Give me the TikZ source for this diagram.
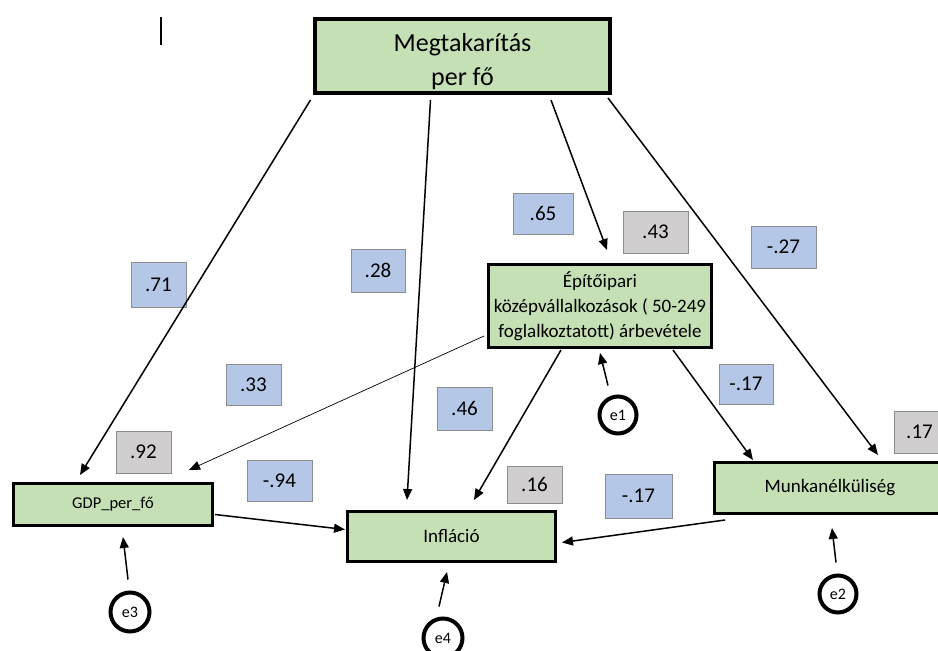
\documentclass[tikz,border=0pt]{standalone}
\usepackage{fontspec}
\setmainfont{Carlito}
\usetikzlibrary{arrows.meta}
\definecolor{boxgreen}{HTML}{C5E0B4}
\definecolor{labblue}{HTML}{B4C7E7}
\definecolor{labgray}{HTML}{D0CECE}
\begin{document}
\begin{tikzpicture}[x=1pt,y=-1pt,
  var/.style={draw=black,line width=3pt,fill=boxgreen,inner sep=0pt,align=center,font=\fontsize{19}{25}\selectfont},
  err/.style={draw=black,line width=4pt,circle,fill=white,inner sep=0pt,minimum size=37pt,font=\fontsize{16}{18}\selectfont},
  bl/.style={draw=black!45,line width=0.6pt,fill=labblue,inner sep=0pt,font=\fontsize{21}{23}\selectfont},
  gr/.style={draw=black!45,line width=0.6pt,fill=labgray,inner sep=0pt,font=\fontsize{21}{23}\selectfont},
  arr/.style={line width=1.5pt,-{Triangle[length=11pt,width=9pt]}},
  thinarr/.style={line width=0.7pt,-{Triangle[length=11pt,width=9pt]}}
]
\useasboundingbox (0,0) rectangle (938,651);
\fill[white] (0,0) rectangle (938,651);
\draw[line width=2pt] (161,17) -- (161,45);
% variables
\node[var,line width=4pt,minimum width=295pt,minimum height=74pt] (top) at (462.5,56) {};
\node[inner sep=0pt,align=center,font=\fontsize{26}{34}\selectfont] (toptext) at (462.5,62) {Megtakarítás\\per fő};
\node[var,minimum width=223pt,minimum height=83pt] (epito) at (600,306) {Építőipari\\középvállalkozások ( 50-249\\foglalkoztatott) árbevétele};
\node[var,minimum width=199pt,minimum height=42pt,font=\fontsize{16.5}{20}\selectfont] (gdp) at (113,504.5) {GDP\_per\_fő};
\node[var,minimum width=292pt,minimum height=51pt] (munka) at (860,488) {\hspace*{-60pt}Munkanélküliség};
\node[var,minimum width=208pt,minimum height=50pt] (infl) at (451.5,536.5) {Infláció};
% errors
\node[err] (e1) at (618,415) {e1};
\node[err,minimum size=39pt] (e3) at (130,612) {e3};
\node[err,minimum size=39pt] (e4) at (443,638) {e4};
\node[err] (e2) at (838,594) {e2};
% labels
\node[bl,minimum width=55pt,minimum height=45pt] (l71) at (158.5,284.5) {.71};
\node[bl,minimum width=54pt,minimum height=43pt] (l28) at (378,270.5) {.28};
\node[bl,minimum width=60pt,minimum height=41pt] (l65) at (543,213.5) {.65};
\node[gr,minimum width=65pt,minimum height=42pt] (l43) at (655.5,232) {.43};
\node[bl,minimum width=65pt,minimum height=42pt] (l27) at (783.5,247) {-.27};
\node[bl,minimum width=55pt,minimum height=41pt] (l33) at (253.5,384.5) {.33};
\node[bl,minimum width=55pt,minimum height=43pt] (l46) at (464.5,408.5) {.46};
\node[bl,minimum width=54pt,minimum height=40pt] (l17a) at (746,384) {-.17};
\node[gr,minimum width=55pt,minimum height=42pt] (l92) at (143.5,452) {.92};
\node[bl,minimum width=65pt,minimum height=41pt] (l94) at (279.5,480.5) {-.94};
\node[gr,minimum width=55pt,minimum height=37pt] (l16) at (534.5,484.5) {.16};
\node[bl,minimum width=67pt,minimum height=44pt] (l17b) at (638.5,496) {-.17};
\node[gr,minimum width=91pt,minimum height=42pt] (l17c) at (939.5,432) {\hspace*{-40pt}.17};
% arrows
\draw[arr] ([shift={(-152,5)}]top.south) -- ([shift={(-33,-7)}]gdp.north);
\draw[arr] ([shift={(-32,5)}]top.south) -- ([shift={(-44.5,-10)}]infl.north);
\draw[arr] ([shift={(88.5,5)}]top.south) -- ([shift={(7,-13)}]epito.north);
\draw[arr] ([shift={(145.5,3)}]top.south) -- ([shift={(18,-6)}]munka.north);
\draw[thinarr] ([shift={(-3,30)}]epito.west) -- ([shift={(76,-12)}]gdp.north);
\draw[arr] ([shift={(-39,1)}]epito.south) -- ([shift={(22.5,-10)}]infl.north);
\draw[arr] ([shift={(73,1)}]epito.south) -- ([shift={(-107,-1)}]munka.north);
\draw[arr] ([shift={(1,10)}]gdp.east) -- ([shift={(-1,-7)}]infl.west);
\draw[arr] ([shift={(-135,5)}]munka.south) -- ([shift={(5,6)}]infl.east);
\draw[arr] ([shift={(-10,-9)}]e1.north) -- ([shift={(0,4)}]epito.south);
\draw[arr] ([shift={(-2,-11)}]e3.north) -- ([shift={(10,10)}]gdp.south);
\draw[arr] ([shift={(-4,-10)}]e4.north) -- ([shift={(-4.5,9)}]infl.south);
\draw[arr] ([shift={(-2,-11)}]e2.north) -- ([shift={(-28,13)}]munka.south);
\end{tikzpicture}
\end{document}
